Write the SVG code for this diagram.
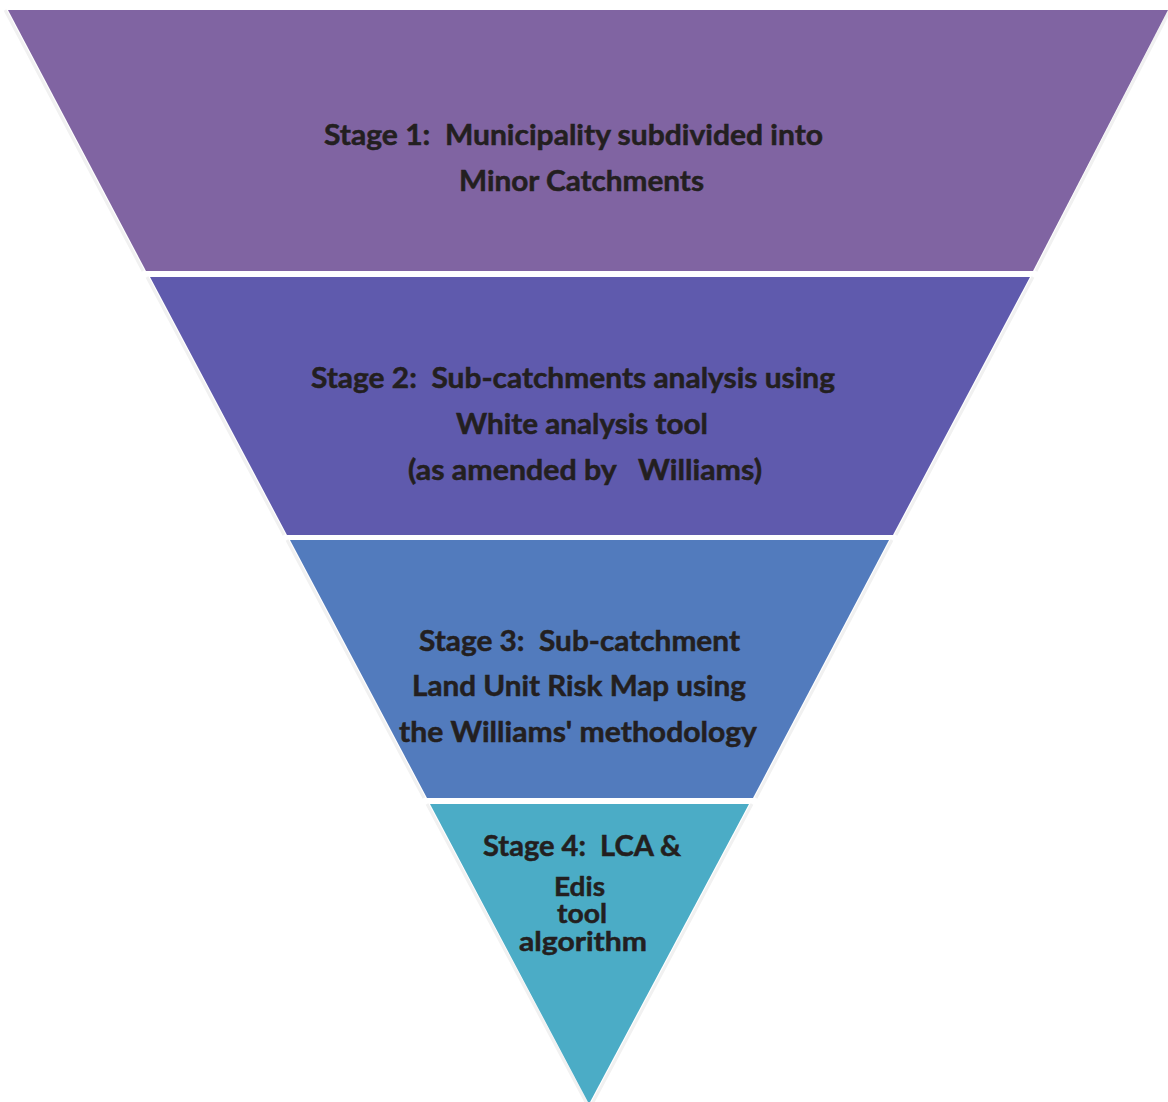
<svg xmlns="http://www.w3.org/2000/svg" width="1168" height="1102" viewBox="0 0 1168 1102">
<style>
.band{stroke:none}
.shadow{fill:none;stroke:#F1F1F1;stroke-width:3}
.lbl{font-family:Lato,"Open Sans","Liberation Sans",sans-serif;font-weight:700;font-size:28px;fill:#231F20;stroke:#231F20;stroke-width:0.5;white-space:pre}
.sm{font-size:26px}
</style>
<rect width="1168" height="1102" fill="#FFFFFF"/>
<g id="shadows">
<path class="shadow" d="M5,10 L143,271 M1170,10 L1036,271"/>
<path class="shadow" d="M147,277 L284,535 M1033,277 L896,535"/>
<path class="shadow" d="M287,540 L424,798 M892,540 L756,798"/>
<path class="shadow" d="M427,804 L587,1104 M752,804 L592,1104"/>
</g>
<g id="stage1">
<polygon class="band" fill="#8064A2" points="8,10 1168,10 1033,271 146,271"/>
<text class="lbl" x="324" y="145" textLength="499" lengthAdjust="spacingAndGlyphs">Stage 1:  Municipality subdivided into</text>
<text class="lbl" x="459" y="191" textLength="245" lengthAdjust="spacingAndGlyphs">Minor Catchments</text>
</g>
<g id="stage2">
<polygon class="band" fill="#5F5AAD" points="150,277 1030,277 893,535 287,535"/>
<text class="lbl" x="311" y="388" textLength="524" lengthAdjust="spacingAndGlyphs">Stage 2:  Sub-catchments analysis using</text>
<text class="lbl" x="456" y="434" textLength="252" lengthAdjust="spacingAndGlyphs">White analysis tool</text>
<text class="lbl" x="408" y="480" textLength="354" lengthAdjust="spacingAndGlyphs">(as amended by   Williams)</text>
</g>
<g id="stage3">
<polygon class="band" fill="#527BBD" points="290,540 889,540 753,798 427,798"/>
<text class="lbl" x="419" y="651" textLength="321" lengthAdjust="spacingAndGlyphs">Stage 3:  Sub-catchment</text>
<text class="lbl" x="412" y="696" textLength="334" lengthAdjust="spacingAndGlyphs">Land Unit Risk Map using</text>
<text class="lbl" x="399" y="742" textLength="358" lengthAdjust="spacingAndGlyphs">the Williams' methodology</text>
</g>
<g id="stage4">
<polygon class="band" fill="#4BACC6" points="430,804 749,804 589,1104"/>
<text class="lbl" x="483" y="856" textLength="198" lengthAdjust="spacingAndGlyphs">Stage 4:  LCA &amp;</text>
<text class="lbl sm" x="554" y="896" textLength="51" lengthAdjust="spacingAndGlyphs">Edis</text>
<text class="lbl sm" x="557" y="923" textLength="50" lengthAdjust="spacingAndGlyphs">tool</text>
<text class="lbl sm" x="519" y="951" textLength="128" lengthAdjust="spacingAndGlyphs">algorithm</text>
</g>
<g id="connectors"/>
</svg>
